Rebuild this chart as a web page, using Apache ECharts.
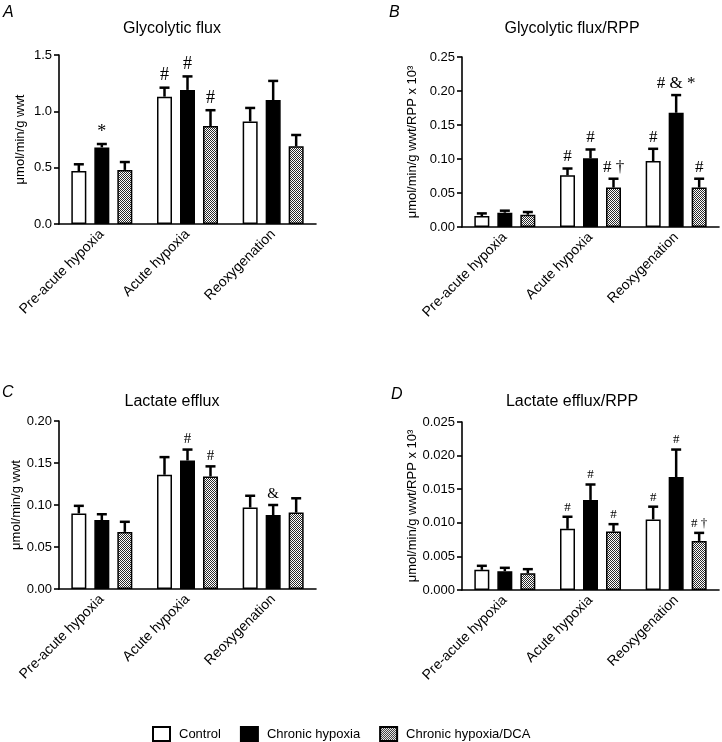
<!DOCTYPE html>
<html>
<head>
<meta charset="utf-8">
<script src="https://cdn.jsdelivr.net/npm/echarts@6/dist/echarts.min.js"></script>
<style>
html,body{margin:0;padding:0;background:#fff;}
#chart{width:722px;height:742px;}
</style>
</head>
<body>
<div id="chart"></div>
<script>
// ---------- DATA ----------
const categories = ['Pre-acute hypoxia', 'Acute hypoxia', 'Reoxygenation'];
const groups = ['Control', 'Chronic hypoxia', 'Chronic hypoxia/DCA'];

// Panel A: Glycolytic flux
const aControl = [0.47, 1.13, 0.91];
const aControlErr = [0.53, 1.21, 1.03];
const aChronic = [0.68, 1.19, 1.10];
const aChronicErr = [0.71, 1.31, 1.27];
const aDCA = [0.48, 0.87, 0.69];
const aDCAErr = [0.55, 1.01, 0.79];
const aMarksControl = ['', '#', ''];
const aMarksChronic = ['*', '#', ''];
const aMarksDCA = ['', '#', ''];

// Panel B: Glycolytic flux/RPP
const bControl = [0.016, 0.076, 0.097];
const bControlErr = [0.020, 0.086, 0.115];
const bChronic = [0.021, 0.101, 0.168];
const bChronicErr = [0.024, 0.114, 0.194];
const bDCA = [0.018, 0.058, 0.058];
const bDCAErr = [0.022, 0.071, 0.071];
const bMarksControl = ['', '#', '#'];
const bMarksChronic = ['', '#', '# & *'];
const bMarksDCA = ['', '# \u2020', '#'];

// Panel C: Lactate efflux
const cControl = [0.090, 0.136, 0.097];
const cControlErr = [0.099, 0.157, 0.111];
const cChronic = [0.082, 0.153, 0.088];
const cChronicErr = [0.089, 0.166, 0.100];
const cDCA = [0.068, 0.134, 0.091];
const cDCAErr = [0.080, 0.146, 0.108];
const cMarksControl = ['', '', ''];
const cMarksChronic = ['', '#', '&'];
const cMarksDCA = ['', '#', ''];

// Panel D: Lactate efflux/RPP
const dControl = [0.0030, 0.0091, 0.0105];
const dControlErr = [0.0036, 0.0109, 0.0124];
const dChronic = [0.0028, 0.0134, 0.0168];
const dChronicErr = [0.0033, 0.0157, 0.0209];
const dDCA = [0.0025, 0.0087, 0.0073];
const dDCAErr = [0.0031, 0.0098, 0.0085];
const dMarksControl = ['', '#', '#'];
const dMarksChronic = ['', '#', '#'];
const dMarksDCA = ['', '#', '# \u2020'];

// axis settings
const titles = ['Glycolytic flux', 'Glycolytic flux/RPP', 'Lactate efflux', 'Lactate efflux/RPP'];
const letters = ['A', 'B', 'C', 'D'];
const yNames = ['\u03BCmol/min/g wwt', '\u03BCmol/min/g wwt/RPP x 10\u00B3', '\u03BCmol/min/g wwt', '\u03BCmol/min/g wwt/RPP x 10\u00B3'];
const yMax = [1.5, 0.25, 0.20, 0.025];
const yInterval = [0.5, 0.05, 0.05, 0.005];
const yDecimals = [1, 2, 2, 3];

// ---------- LAYOUT / STYLE ----------
const grids = [
  {left: 59, top: 55, width: 257, height: 169},
  {left: 462, top: 57, width: 257, height: 170},
  {left: 59, top: 421, width: 257, height: 168},
  {left: 462, top: 422, width: 257, height: 168}
];
const nameGaps = [32, 43, 34, 43];
const markFont = [18, 17, 15, 13];
const titlePos = [[167, 16], [567, 16], [167, 389], [567, 389]];
const letterPos = [[-2, 0], [384, 0], [-3, 380], [386, 382]];

const pc = document.createElement('canvas');
pc.width = 2; pc.height = 2;
const pctx = pc.getContext('2d');
pctx.fillStyle = '#ffffff'; pctx.fillRect(0, 0, 2, 2);
pctx.fillStyle = '#2a2a2a'; pctx.fillRect(0, 0, 1, 1); pctx.fillRect(1, 1, 1, 1);
const hatch = {image: pc, repeat: 'repeat'};
const fills = ['#ffffff', '#000000', hatch];

const panels = [
  {vals: [aControl, aChronic, aDCA], errs: [aControlErr, aChronicErr, aDCAErr], marks: [aMarksControl, aMarksChronic, aMarksDCA]},
  {vals: [bControl, bChronic, bDCA], errs: [bControlErr, bChronicErr, bDCAErr], marks: [bMarksControl, bMarksChronic, bMarksDCA]},
  {vals: [cControl, cChronic, cDCA], errs: [cControlErr, cChronicErr, cDCAErr], marks: [cMarksControl, cMarksChronic, cMarksDCA]},
  {vals: [dControl, dChronic, dDCA], errs: [dControlErr, dChronicErr, dDCAErr], marks: [dMarksControl, dMarksChronic, dMarksDCA]}
];

const BAR_W = 15, BAR_GAP = 8;
const sans = 'Liberation Sans, Arial, Helvetica, sans-serif';
const serif = 'Liberation Serif, Times New Roman, serif';

const option = {
  animation: false,
  backgroundColor: '#ffffff',
  title: [],
  grid: grids,
  xAxis: [],
  yAxis: [],
  series: [],
  legend: {
    data: groups,
    left: 147, top: 721,
    itemWidth: 17, itemHeight: 14, itemGap: 19,
    selectedMode: false,
    icon: 'rect',
    textStyle: {fontSize: 13, color: '#000', fontFamily: sans, padding: [0, 0, 0, 4]}
  }
};

panels.forEach((p, k) => {
  option.title.push({
    text: titles[k], left: titlePos[k][0], top: titlePos[k][1], textAlign: 'center',
    textStyle: {fontSize: 16, fontWeight: 'normal', color: '#000', fontFamily: sans}
  });
  option.title.push({
    text: letters[k], left: letterPos[k][0], top: letterPos[k][1],
    textStyle: {fontSize: 16, fontWeight: 'normal', fontStyle: 'italic', color: '#000', fontFamily: sans}
  });
  option.xAxis.push({
    type: 'category', gridIndex: k, data: categories,
    axisLine: {lineStyle: {color: '#000', width: 1.6}},
    axisTick: {alignWithLabel: true, length: 5, lineStyle: {color: '#000', width: 1.6}},
    axisLabel: {rotate: 45, interval: 0, fontSize: 14, color: '#000', fontFamily: sans, margin: 8}
  });
  option.yAxis.push({
    type: 'value', gridIndex: k, min: 0, max: yMax[k], interval: yInterval[k],
    name: yNames[k], nameLocation: 'middle', nameGap: nameGaps[k],
    nameTextStyle: {fontSize: 13, color: '#000', fontFamily: sans},
    axisLine: {show: true, lineStyle: {color: '#000', width: 1.6}},
    axisTick: {show: true, length: 5, lineStyle: {color: '#000', width: 1.6}},
    splitLine: {show: false},
    axisLabel: {fontSize: 13, color: '#000', fontFamily: sans, margin: 7,
      formatter: v => v.toFixed(yDecimals[k])}
  });
  groups.forEach((g, s) => {
    option.series.push({
      type: 'bar', name: g, xAxisIndex: k, yAxisIndex: k,
      data: p.vals[s], barWidth: BAR_W, barGap: (BAR_GAP / BAR_W * 100) + '%',
      itemStyle: {color: fills[s], borderColor: '#000', borderWidth: 1.5},
      z: 2
    });
  });
  const errData = [];
  groups.forEach((g, s) => {
    categories.forEach((c, i) => {
      errData.push([i, p.vals[s][i], p.errs[s][i], s, p.marks[s][i]]);
    });
  });
  option.series.push({
    type: 'custom', xAxisIndex: k, yAxisIndex: k, z: 5, silent: true,
    encode: {x: 0, y: 2},
    data: errData,
    renderItem: function (params, api) {
      const d = errData[params.dataIndex];
      const base = api.coord([d[0], d[1]]);
      const top = api.coord([d[0], d[2]]);
      const x = base[0] + (d[3] - 1) * (BAR_W + BAR_GAP);
      const children = [
        {type: 'line', shape: {x1: x, y1: base[1], x2: x, y2: top[1]}, style: {stroke: '#000', lineWidth: 2.5}},
        {type: 'line', shape: {x1: x - 5, y1: top[1], x2: x + 5, y2: top[1]}, style: {stroke: '#000', lineWidth: 2.5}}
      ];
      if (d[4]) {
        children.push({type: 'text', x: x, y: top[1] - 3,
          style: {text: d[4], align: 'center', verticalAlign: 'bottom', fontSize: markFont[k], fontFamily: serif, fill: '#000'}});
      }
      return {type: 'group', children: children};
    }
  });
});

const chart = echarts.init(document.getElementById('chart'), null, {renderer: 'canvas'});
chart.setOption(option);
</script>
</body>
</html>
